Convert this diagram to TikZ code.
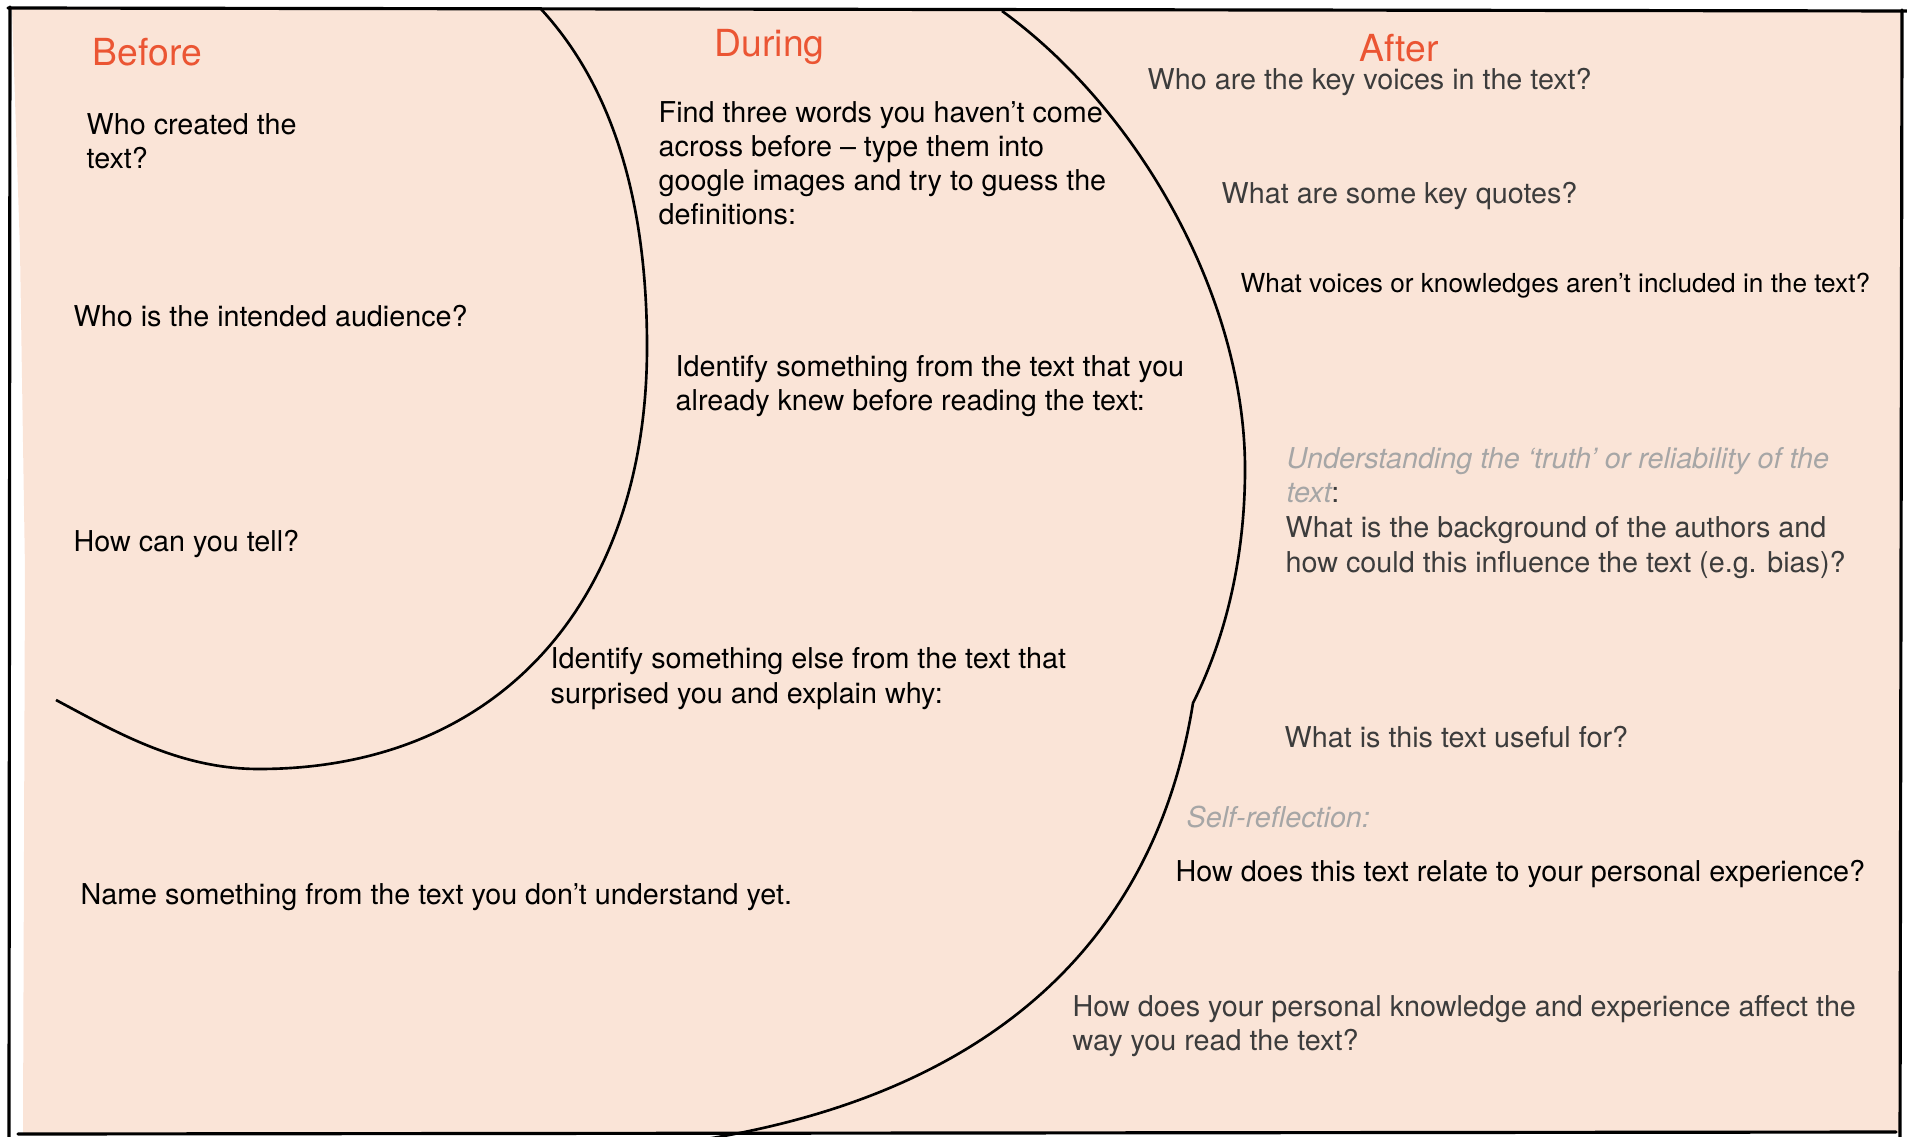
\documentclass[tikz,border=0pt]{standalone}
\usepackage{fontspec}
\setmainfont{TeX Gyre Heros}
\usepackage{tkz-euclide}
\definecolor{PaperClr}{HTML}{FAE4D7}
\definecolor{HeadClr}{HTML}{EB5533}
\definecolor{SoftClr}{HTML}{A6A6A6}
\definecolor{InkClr}{HTML}{3C3C3C}

\begin{document}
\begin{tikzpicture}[x=0.01cm,y=-0.01cm,
  head/.style={anchor=base west,inner sep=0pt,text=HeadClr,font=\fontsize{10.6}{12}\selectfont},
  qtext/.style={anchor=base west,inner sep=0pt,align=left,font=\fontsize{8.17}{9.67}\selectfont},
  qgrey/.style={qtext,text=InkClr},
  qsoft/.style={qtext,text=SoftClr,font=\fontsize{8.17}{9.67}\selectfont\itshape}]
\useasboundingbox (0,0) rectangle (1907,1137);
\tkzSetUpLine[line width=0.9pt,color=black]

\tkzDefPoints{12/9/P1,1902/11/P2,1900/1133/P3,23/1133/P4,25/570/P5,20/250/P6}
\tkzFillPolygon[fill=PaperClr,draw=none](P1,P2,P3,P4,P5,P6)

% sketchy frame
\tkzDefPoints{8/8/TL,1907/11/TR,10/7/LT,9/1137/LB,1902/10/RT,1900/1137/RB,18/1134/BL,1896/1132/BR}
\tkzDrawSegments[line width=0.9pt](TL,TR LT,LB RT,RB BL,BR)

% before circle
\tkzDefPoints{540/8/B0,647/347/B1,259/769/B2,56/700/B3}
\draw[line width=0.75pt] (B0) .. controls (620,94) and (647,217) .. (B1)
  .. controls (647,600) and (500,769) .. (B2)
  .. controls (179,769) and (116,732) .. (B3);

% during circle, with the kink
\tkzDefPoints{1002/11/D0,1245/469/D1,1193/703/D2,700/1140/D4}
\draw[line width=0.75pt] (D0) .. controls (1140,111) and (1245,299) .. (D1)
  .. controls (1245,549) and (1229,631) .. (D2)
  .. controls (1151,965) and (962,1099) .. (D4);

\node[head] (before) at (92,66) {Before};
\node[head] (during) at (714,57) {During};
\node[head] (after) at (1359,62) {After};

\node[qtext] (qCreator) at (86,169) {Who created the\\text?};
\node[qtext] (qAudience) at (73,327) {Who is the intended audience?};
\node[qtext] (qTell) at (73,551) {How can you tell?};
\node[qtext] (qUnclear) at (80,904) {Name something from the text you don’t understand yet.};

\node[qtext] (qWords) at (658,225) {Find three words you haven’t come\\across before – type them into\\google images and try to guess the\\definitions:};
\node[qtext] (qKnew) at (675,411) {Identify something from the text that you\\already knew before reading the text:};
\node[qtext] (qSurprise) at (550,703) {Identify something else from the text that\\surprised you and explain why:};

\node[qgrey] (qVoices) at (1147,90) {Who are the key voices in the text?};
\node[qgrey] (qQuotes) at (1221,204) {What are some key quotes?};
\node[qtext,font=\fontsize{7.45}{9}\selectfont] (qMissing) at (1240,293) {What voices or knowledges aren’t included in the text?};
\node[qsoft] (qTruth) at (1286,503) {Understanding the ‘truth’ or reliability of the\\text{\color{InkClr}\upshape:}};
\node[qgrey] (qBackground) at (1285,572) {What is the background of the authors and\\how could this influence the text (e.g. bias)?};
\node[qgrey] (qUseful) at (1284,747) {What is this text useful for?};
\node[qsoft] (qSelf) at (1186,827) {Self-reflection:};
\node[qtext] (qRelate) at (1175,881) {How does this text relate to your personal experience?};
\node[qgrey] (qAffect) at (1072,1050) {How does your personal knowledge and experience affect the\\way you read the text?};

\end{tikzpicture}
\end{document}
